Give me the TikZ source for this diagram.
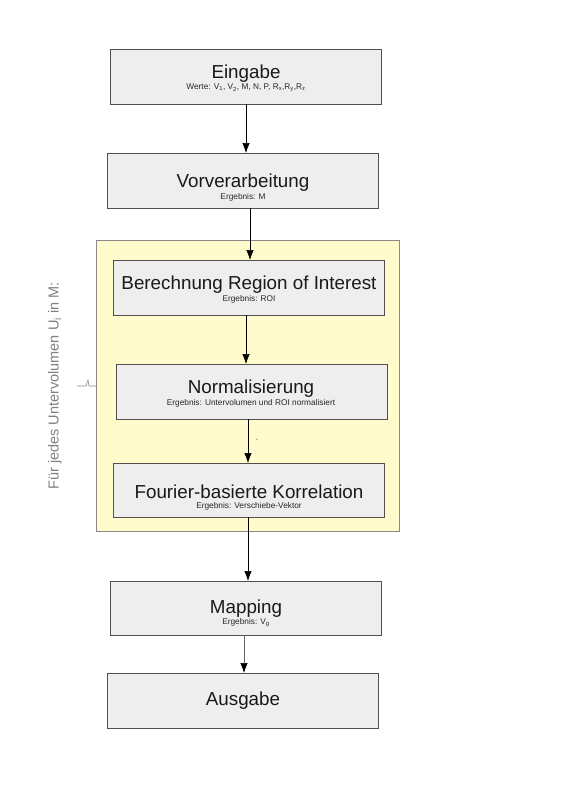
\documentclass[tikz,border=0pt]{standalone}
\usepackage{fontspec}
\setmainfont{Liberation Sans}
\usetikzlibrary{arrows.meta}
\definecolor{boxfill}{HTML}{EEEEEE}
\definecolor{boxline}{HTML}{505050}
\definecolor{loopfill}{HTML}{FFFBCC}
\definecolor{loopline}{HTML}{8A8A8A}
\definecolor{sidegray}{HTML}{808080}
\begin{document}
\begin{tikzpicture}[x=1pt,y=-1pt,
  stepbox/.style={draw=boxline,fill=boxfill,line width=0.9pt,rectangle,inner sep=0pt},
  ttl/.style={font=\fontsize{18.8}{21}\selectfont,text=black!90},
  sub/.style={font=\fontsize{8.3}{9}\selectfont,text=black!85},
  arr/.style={-{Latex[length=10pt,width=7.5pt]},line width=0.6pt,black}]
\useasboundingbox (0,0) rectangle (566,800);
\fill[white] (0,0) rectangle (566,800);
% loop region
\draw[fill=loopfill,draw=loopline,line width=0.7pt] (96,240) rectangle (399,531);
\node[rotate=90,font=\fontsize{14.5}{16}\selectfont,text=sidegray] (side) at (55,386) {Für jedes Untervolumen U\textsubscript{i} in M:};
\coordinate (tickA) at (77,386);
\coordinate (tickB) at (96,386);
\draw[loopline,line width=0.6pt] (tickA) -- (86,386) -- (88,380) -- (89,386) -- (tickB);
% boxes
\draw[stepbox] (110,49) rectangle (381,104);
\node[ttl] (t1) at (246,74) {Eingabe};
\node[sub] (s1) at (246,88) {Werte: V\textsubscript{1}, V\textsubscript{2}, M, N, P, R\textsubscript{x},R\textsubscript{y},R\textsubscript{z}};
\coordinate (b1) at (246,104);
\coordinate (a2) at (246,153);

\draw[stepbox] (107,153) rectangle (378,208);
\node[ttl] (t2) at (243,183) {Vorverarbeitung};
\node[sub] (s2) at (243,197) {Ergebnis: M};
\coordinate (b2) at (250,208);
\coordinate (a3) at (250,260);

\draw[stepbox] (113,260) rectangle (384,315);
\node[ttl] (t3) at (249,285) {Berechnung Region of Interest};
\node[sub] (s3) at (249,299) {Ergebnis: ROI};
\coordinate (b3) at (246,315);
\coordinate (a4) at (246,364);

\draw[stepbox] (116,364) rectangle (387,419);
\node[ttl] (t4) at (251,389) {Normalisierung};
\node[sub] (s4) at (251,403) {Ergebnis: Untervolumen und ROI normalisiert};
\coordinate (b4) at (248,419);
\coordinate (a5) at (248,463);
\node[font=\fontsize{7}{7}\selectfont,text=black!70] (dash) at (257,440) {-};

\draw[stepbox] (113,463) rectangle (384,517);
\node[ttl] (t5) at (249,492) {Fourier-basierte Korrelation};
\node[sub] (s5) at (249,506) {Ergebnis: Verschiebe-Vektor};
\coordinate (b5) at (248,517);
\coordinate (a6) at (248,581);

\draw[stepbox] (110,581) rectangle (381,635);
\node[ttl] (t6) at (246,609) {Mapping};
\node[sub] (s6) at (246,623) {Ergebnis: V\textsubscript{g}};
\coordinate (b6) at (244,635);
\coordinate (a7) at (244,673);

\draw[stepbox] (107,673) rectangle (378,728);
\node[ttl] (t7) at (243,701) {Ausgabe};

% connectors
\draw[arr] (b1) -- (a2);
\draw[arr] (b2) -- (a3);
\draw[arr] (b3) -- (a4);
\draw[arr] (b4) -- (a5);
\draw[arr] (b5) -- (a6);
\draw[-{Latex[length=10pt,width=7.5pt,color=black]},line width=0.6pt,draw=black!60] (b6) -- (a7);
\end{tikzpicture}
\end{document}
